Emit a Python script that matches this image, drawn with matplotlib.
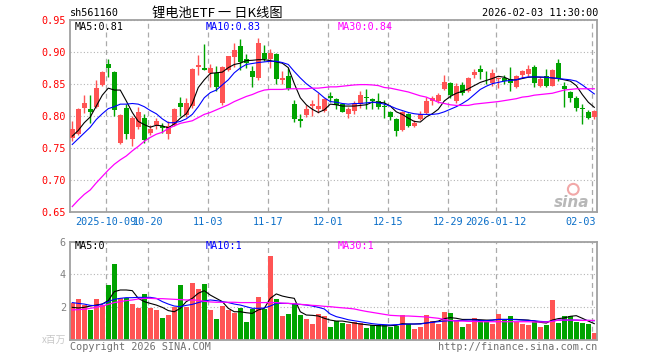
import matplotlib
matplotlib.use("Agg")
import matplotlib.pyplot as plt
import numpy as np

# daily candles of sh561160 (index 0 = first candle on the left)
opens = [.766, .772, .813, .811, .815, .849, .882, .870, .759, .813, .765, .784, .798, .774, .786, .785, .772, .786, .821, .802, .816, .877,
         .875, .868, .868, .821, .873, .892, .910, .889, .871, .860, .899, .889, .898, .856, .863, .820, .795, .802, .816, .812, .808, .832,
         .827, .819, .803, .808, .819, .830, .827, .824, .816, .807, .796, .779, .803, .785, .795, .805, .824, .824, .842, .852, .824, .849,
         .840, .865, .874, .859, .852, .858, .860, .858, .846, .864, .866, .877, .848, .863, .848, .883, .848, .838, .829, .813, .807, .799]
highs = [.792, .813, .834, .834, .856, .871, .890, .871, .803, .819, .800, .814, .804, .786, .798, .789, .792, .813, .830, .829, .875, .896,
         .913, .881, .878, .878, .895, .915, .920, .898, .878, .923, .911, .905, .899, .871, .876, .825, .803, .817, .825, .837, .829, .838,
         .829, .821, .815, .824, .839, .842, .829, .836, .825, .808, .798, .808, .805, .794, .808, .830, .831, .836, .864, .854, .852, .854,
         .862, .874, .880, .871, .874, .862, .864, .877, .865, .873, .880, .880, .862, .874, .874, .889, .854, .839, .831, .820, .810, .810]
lows = [.761, .770, .805, .789, .813, .847, .862, .800, .757, .764, .754, .780, .759, .770, .780, .774, .765, .785, .800, .799, .813, .865,
        .872, .846, .839, .817, .871, .877, .873, .876, .846, .857, .886, .876, .851, .851, .841, .791, .784, .799, .800, .805, .806, .822,
        .811, .806, .797, .804, .813, .811, .811, .811, .797, .794, .769, .777, .784, .784, .794, .804, .818, .821, .841, .829, .821, .834,
        .838, .860, .858, .850, .848, .845, .850, .840, .844, .860, .863, .846, .846, .846, .847, .855, .815, .823, .809, .788, .795, .795]
closes = [.780, .812, .821, .807, .845, .869, .876, .810, .802, .772, .798, .807, .763, .780, .793, .781, .785, .812, .815, .821, .874, .880,
          .873, .876, .846, .877, .894, .904, .885, .883, .862, .914, .890, .899, .859, .860, .842, .796, .793, .812, .819, .816, .827, .828,
          .817, .807, .812, .820, .834, .829, .824, .815, .815, .799, .777, .807, .785, .790, .803, .824, .829, .834, .854, .834, .848, .836,
          .860, .869, .870, .858, .868, .860, .855, .852, .863, .871, .874, .852, .859, .848, .873, .859, .843, .829, .813, .812, .798, .808]

ma5 = [.769, .778, .790, .799, .816, .833, .844, .841, .841, .824, .806, .792, .787, .783, .786, .785, .782, .788, .797, .804, .820, .845,
       .857, .867, .868, .869, .876, .881, .883, .887, .8875, .8885, .8885, .887, .885, .883, .876, .851, .829, .818, .811, .806, .810, .819,
       .818, .816, .816, .816, .817, .818, .822, .822, .821, .816, .807, .803, .797, .792, .791, .799, .804, .811, .824, .831, .836, .839,
       .843, .848, .853, .856, .859, .8625, .861, .857, .857, .859, .861, .8615, .861, .861, .860, .859, .857, .855, .848, .834, .822, .814]
ma10 = [.756, .765, .774, .783, .795, .804, .812, .815, .819, .819, .820, .819, .815, .809, .804, .796, .790, .790, .792, .796, .803, .815,
        .829, .837, .841, .849, .857, .868, .8755, .881, .8825, .884, .885, .886, .886, .884, .881, .870, .860, .851, .844, .837, .829, .823,
        .822, .820, .819, .820, .820, .821, .822, .821, .819, .816, .812, .809, .806, .804, .803, .803, .803, .804, .807, .811, .815, .820,
        .826, .834, .842, .847, .851, .853, .855, .856, .857, .860, .8615, .8615, .8615, .861, .860, .859, .858, .857, .855, .849, .842, .835]
ma30 = [.659, .669, .678, .685, .696, .706, .716, .725, .732, .738, .746, .753, .761, .767, .772, .775, .781, .785, .789, .791, .793, .798,
        .803, .806, .810, .814, .818, .823, .827, .831, .834, .838, .841, .842, .842, .842, .843, .843, .843, .843, .844, .844, .845, .846,
        .846, .847, .848, .849, .8495, .8495, .849, .848, .845, .844, .842, .840, .838, .835, .832, .830, .826, .822, .820, .818, .817, .817,
        .817, .819, .820, .821, .822, .823, .8245, .826, .8275, .830, .831, .833, .834, .835, .836, .8385, .841, .842, .843, .843, .843, .843]

# volume in millions
volume = [2.22, 2.49, 2.15, 1.82, 2.49, 2.10, 3.35, 4.63, 2.53, 2.57, 2.18, 1.96, 2.80, 1.96, 1.82, 1.33, 1.51, 2.02, 3.35, 2.02, 3.47, 3.10,
          3.41, 1.82, 1.27, 2.06, 1.82, 1.65, 1.96, 1.08, 1.86, 2.61, 1.86, 5.12, 2.49, 1.45, 1.57, 2.22, 1.51, 1.27, 0.96, 1.57, 1.45, 0.78,
          1.14, 1.02, 0.96, 1.10, 1.00, 0.71, 0.88, 0.88, 0.88, 0.80, 0.84, 1.49, 0.96, 0.65, 0.78, 1.51, 1.14, 0.96, 1.69, 1.63, 1.16, 0.78,
          0.96, 1.33, 1.20, 1.14, 0.96, 1.57, 1.20, 1.45, 1.08, 0.96, 0.90, 1.08, 0.78, 0.90, 2.43, 1.02, 1.45, 1.45, 1.08, 1.02, 0.96, 0.41]
vma5 = [1.98, 1.94, 1.98, 2.06, 2.12, 2.18, 2.39, 2.94, 3.04, 3.04, 3.00, 2.53, 2.33, 2.22, 2.12, 1.98, 1.78, 1.71, 1.92, 2.33, 2.53, 2.84,
        3.00, 2.73, 2.53, 2.33, 1.92, 1.71, 1.71, 1.65, 1.61, 1.82, 1.92, 2.53, 2.80, 2.67, 2.59, 2.53, 1.71, 1.51, 1.49, 1.45, 1.31, 1.20,
        1.14, 1.14, 1.08, 1.02, 0.96, 0.92, 0.88, 0.86, 0.84, 0.86, 0.88, 0.98, 0.96, 0.96, 0.98, 1.02, 1.08, 1.14, 1.29, 1.35, 1.31, 1.24,
        1.24, 1.24, 1.22, 1.20, 1.20, 1.24, 1.24, 1.24, 1.24, 1.22, 1.20, 1.14, 1.06, 1.02, 1.20, 1.29, 1.33, 1.43, 1.47, 1.31, 1.14, 0.98]
vma10 = [2.27, 2.22, 2.18, 2.10, 2.08, 2.18, 2.33, 2.47, 2.53, 2.57, 2.57, 2.59, 2.59, 2.59, 2.53, 2.33, 2.18, 2.06, 2.02, 2.10, 2.16, 2.27,
         2.37, 2.43, 2.39, 2.33, 2.27, 2.18, 2.12, 2.02, 1.92, 1.92, 1.94, 2.06, 2.22, 2.22, 2.22, 2.18, 2.16, 2.12, 2.06, 1.98, 1.88, 1.57,
         1.41, 1.32, 1.22, 1.16, 1.10, 1.04, 0.98, 0.94, 0.92, 0.90, 0.92, 0.94, 0.96, 0.96, 0.96, 1.02, 1.06, 1.10, 1.14, 1.16, 1.16, 1.18,
         1.20, 1.20, 1.18, 1.16, 1.20, 1.24, 1.24, 1.24, 1.22, 1.20, 1.18, 1.16, 1.12, 1.10, 1.14, 1.20, 1.20, 1.20, 1.20, 1.18, 1.18, 1.16]
vma30 = [1.82, 1.84, 1.86, 1.92, 1.98, 2.06, 2.16, 2.27, 2.33, 2.39, 2.43, 2.49, 2.53, 2.53, 2.51, 2.51, 2.49, 2.47, 2.45, 2.43, 2.43, 2.41,
         2.35, 2.31, 2.29, 2.29, 2.29, 2.29, 2.27, 2.27, 2.27, 2.27, 2.27, 2.27, 2.27, 2.24, 2.22, 2.20, 2.16, 2.14, 2.10, 2.08, 2.04, 2.02,
         1.98, 1.95, 1.92, 1.88, 1.80, 1.73, 1.67, 1.61, 1.55, 1.49, 1.47, 1.45, 1.45, 1.43, 1.41, 1.39, 1.35, 1.31, 1.24, 1.18, 1.14, 1.14,
         1.12, 1.12, 1.10, 1.10, 1.10, 1.10, 1.10, 1.10, 1.10, 1.10, 1.10, 1.08, 1.08, 1.08, 1.12, 1.20, 1.20, 1.20, 1.20, 1.18, 1.18, 1.18]

tick_idx = [6, 13, 23, 33, 43, 53, 63, 71, 87]
tick_labels = ["2025-10-09", "10-20", "11-03", "11-17", "12-01", "12-15", "12-29", "2026-01-12", "02-03"]
price_ticks = [0.65, 0.70, 0.75, 0.80, 0.85, 0.90, 0.95]
vol_ticks = [2, 4, 6]

RED = '#ff5454'
GREEN = '#00a300'
FRAME = '#a0a0a0'
GRID = '#aaaaaa'
MONO = 'DejaVu Sans Mono'
FS = 7.3

plt.rcParams['font.family'] = [MONO]

o = np.array(opens); h = np.array(highs); l = np.array(lows); c = np.array(closes)
x = np.arange(len(c))
cols = np.where(c > o, RED, GREEN)

fig = plt.figure(figsize=(6.6, 3.6), dpi=100)
W, H = 660.0, 360.0
ax = fig.add_axes([70 / W, 1 - 212.3 / H, 527 / W, 192 / H])
axv = fig.add_axes([70 / W, 1 - 339.7 / H, 527 / W, 98.1 / H])

for a in (ax, axv):
    a.set_xlim(-0.38, 87.45)
    a.set_xticks([])
    for s in a.spines.values():
        s.set_color(FRAME)
        s.set_linewidth(1.3)
    for t in tick_idx:
        a.axvline(t - 0.35, color=GRID, ls=(0, (4, 3)), lw=0.9, zorder=0)
    a.yaxis.grid(True, ls=(0, (1, 2)), color='#b4b4b4', lw=0.8)
    a.set_axisbelow(True)
    a.tick_params(axis='y', length=0, pad=3, labelsize=FS)

# price panel
ax.set_ylim(0.65, 0.95)
ax.set_yticks(price_ticks)
ax.set_yticklabels(["%.2f" % v for v in price_ticks], color='red')
ax.vlines(x, l, h, colors=cols, lw=1, zorder=2)
ax.bar(x, np.maximum(np.abs(c - o), 0.0009), bottom=np.minimum(o, c), width=0.8,
       color=cols, lw=0, zorder=3)
ax.plot(x, ma5, color='black', lw=0.8, zorder=4)
ax.plot(x, ma10, color='blue', lw=0.8, zorder=4)
ax.plot(x, ma30, color='#ff00ff', lw=0.9, zorder=4)

ax.text(0.0095, 0.965, "MA5:0.81", color='black', fontsize=FS, va='center', transform=ax.transAxes)
ax.text(0.258, 0.965, "MA10:0.83", color='blue', fontsize=FS, va='center', transform=ax.transAxes)
ax.text(0.507, 0.965, "MA30:0.84", color='#ff00ff', fontsize=FS, va='center', transform=ax.transAxes)

tr = ax.get_xaxis_transform()
for t, lab in zip(tick_idx, tick_labels):
    if t == tick_idx[-1]:
        ax.text(87.3, -0.052, lab, color='#0a6ec8', fontsize=FS, ha='right', va='center', transform=tr)
    else:
        ax.text(t - 0.35, -0.052, lab, color='#0a6ec8', fontsize=FS, ha='center', va='center', transform=tr)

# sina watermark
ax.text(0.985, 0.05, "sina", color='#b8b8b8', fontsize=11, fontweight='bold', style='italic',
        family='DejaVu Sans', ha='right', va='center', transform=ax.transAxes, zorder=1)
ax.scatter([0.955], [0.12], s=60, facecolor='none', edgecolor='#f2a8a8', lw=1.5,
           transform=ax.transAxes, zorder=1)

# volume panel
axv.set_ylim(0, 6)
axv.set_yticks(vol_ticks)
axv.set_yticklabels([str(v) for v in vol_ticks], color='#808080')
axv.bar(x, volume, width=0.8, color=cols, lw=0, zorder=2)
axv.plot(x, vma5, color='black', lw=0.8, zorder=4)
axv.plot(x, vma10, color='blue', lw=0.8, zorder=4)
axv.plot(x, vma30, color='#ff00ff', lw=0.9, zorder=4)
axv.text(0.0095, 0.955, "MA5:0", color='black', fontsize=FS, va='center', transform=axv.transAxes)
axv.text(0.258, 0.955, "MA10:1", color='blue', fontsize=FS, va='center', transform=axv.transAxes)
axv.text(0.507, 0.955, "MA30:1", color='#ff00ff', fontsize=FS, va='center', transform=axv.transAxes)

# header and footer
fig.text(70 / W, 1 - 13 / H, "sh561160", fontsize=FS, va='center')
fig.text(217 / W, 1 - 13 / H, "锂电池ETF 一 日K线图", fontsize=9.5, ha='center', va='center',
         family=['Noto Sans CJK SC', 'DejaVu Sans'])
fig.text(598 / W, 1 - 13 / H, "2026-02-03 11:30:00", fontsize=FS, ha='right', va='center')
fig.text(66 / W, 1 - 340 / H, "x百万", fontsize=7, ha='right', va='center', color='#c8c8c8',
         family=['Noto Sans CJK SC', 'DejaVu Sans'])
fig.text(70 / W, 1 - 347 / H, "Copyright 2026 SINA.COM", fontsize=FS, va='center', color='#707070')
fig.text(597 / W, 1 - 347 / H, "http://finance.sina.com.cn", fontsize=FS, ha='right', va='center', color='#707070')

fig.savefig("out.png", dpi=100, facecolor='white')
